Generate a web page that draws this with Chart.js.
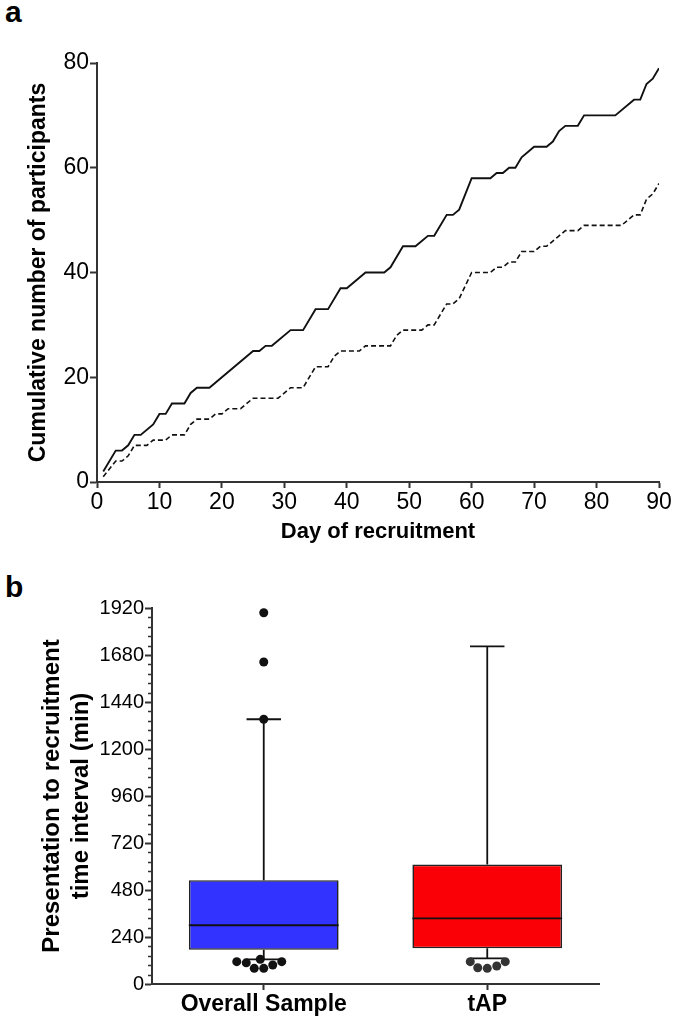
<!DOCTYPE html>
<html lang="en">
<head>
<meta charset="UTF-8" />
<title>Recruitment charts</title>
<script src="https://cdn.jsdelivr.net/npm/chart.js"></script>
<style>
  body { margin: 0; background: #fff; }
  .panel { position: absolute; left: 0; width: 675px; }
  .letter {
    position: absolute;
    font: bold 30px "Liberation Sans", Arial, sans-serif;
    line-height: 1;
    color: #000;
  }
</style>
</head>
<body>
<div class="letter" style="left:5px; top:-3px;">a</div>
<div class="letter" style="left:5px; top:572px;">b</div>
<div class="panel" style="top:0; height:550px;"><canvas id="lineChart"></canvas></div>
<div class="panel" style="top:550px; height:470px;"><canvas id="boxChart"></canvas></div>

<script>
// --- panel a: cumulative recruitment (vertices of the step-like lines) ---
const solidDays   = [1,3,4,5,6,7,9,10,11,12,14,15,16,18,25,26,27,28,31,33,35,37,39,40,43,46,47,49,51,53,54,56,57,58,60,63,64,65,66,67,68,70,72,73,74,75,77,78,83,86,87,88,89,90];
const solidCounts = [2,6,6,7,9,9,11,13,13,15,15,17,18,18,25,25,26,26,29,29,33,33,37,37,40,40,41,45,45,47,47,51,51,52,58,58,59,59,60,60,62,64,64,65,67,68,68,70,70,73,73,76,77,79];
const dashedDays   = [1,3,4,5,6,8,9,11,12,14,15,16,18,19,20,21,23,25,29,31,33,35,37,38,39,42,43,47,48,49,52,53,54,56,57,58,60,63,64,65,66,67,68,70,71,72,74,75,77,78,84,86,87,88,89,90];
const dashedCounts = [1,4,4,5,7,7,8,8,9,9,11,12,12,13,13,14,14,16,16,18,18,22,22,24,25,25,26,26,28,29,29,30,30,34,34,35,40,40,41,41,42,42,44,44,45,45,47,48,48,49,49,51,51,54,55,57];

// --- panel b: box plot summary ---
const groups       = ['Overall Sample', 'tAP'];
const q1Values     = [175, 182];
const medianValues = [300, 335];
const q3Values     = [530, 610];
const whiskerLow   = [126, 131];
const whiskerHigh  = [1352, 1724];
const overallPoints = [1896, 1644, 1352, 126, 114, 114, 108, 97, 80, 80];
const tapPoints     = [114, 114, 92, 83, 80];

const SANS = '"Liberation Sans", Arial, sans-serif';
Chart.defaults.color = '#000';
Chart.defaults.animation = false;

function toXY(xs, ys) {
  return xs.map((x, i) => ({ x: x, y: ys[i] }));
}

new Chart(document.getElementById('lineChart'), {
  type: 'line',
  data: {
    datasets: [
      { label: 'Overall sample', data: toXY(solidDays, solidCounts),
        borderColor: '#111', borderWidth: 1.9, pointRadius: 0, tension: 0 },
      { label: 'tAP', data: toXY(dashedDays, dashedCounts),
        borderColor: '#111', borderWidth: 1.6, borderDash: [5, 3], pointRadius: 0, tension: 0 }
    ]
  },
  options: {
    responsive: true,
    maintainAspectRatio: false,
    layout: { padding: { top: 63, right: 16, left: 0, bottom: 0 } },
    plugins: { legend: { display: false }, tooltip: { enabled: false } },
    scales: {
      x: {
        type: 'linear', min: 0, max: 90,
        ticks: { stepSize: 10, maxRotation: 0, padding: 1, font: { family: SANS, size: 23 } },
        grid: { drawOnChartArea: false, tickLength: 6, tickWidth: 2, tickColor: '#333' },
        border: { color: '#333', width: 2 },
        title: { display: true, text: 'Day of recruitment',
                 font: { family: SANS, size: 22, weight: 'bold' }, padding: { top: 0, bottom: 5 } },
        afterFit: s => { s.height = 68; }
      },
      y: {
        min: 0, max: 80,
        ticks: { stepSize: 20, padding: 1, font: { family: SANS, size: 23 } },
        grid: { drawOnChartArea: false, tickLength: 7, tickWidth: 2, tickColor: '#333' },
        border: { color: '#333', width: 2 },
        title: { display: true, text: 'Cumulative number of participants',
                 font: { family: SANS, size: 23, weight: 'bold' }, padding: { top: 25, bottom: 0 } },
        afterFit: s => { s.width = 97; }
      }
    }
  }
});

// simple beeswarm: each point takes the nearest free horizontal offset
function swarm(yPixels, minDist) {
  const placed = [];
  const order = yPixels.map((y, i) => i).sort((a, b) => yPixels[b] - yPixels[a]);
  const offsets = new Array(yPixels.length).fill(0);
  order.forEach(i => {
    const y = yPixels[i];
    for (let k = 0; k < 400; k++) {
      const dx = (k % 2 === 0 ? 1 : -1) * Math.ceil(k / 2) * 0.5;
      const ok = placed.every(p => Math.hypot(p.x - dx, p.y - y) >= minDist);
      if (ok) { offsets[i] = dx; placed.push({ x: dx, y: y }); break; }
    }
  });
  return offsets;
}

const boxParts = {
  id: 'boxParts',
  afterDatasetsDraw(chart) {
    const { ctx, scales: { y } } = chart;
    const meta = chart.getDatasetMeta(0);
    const pointSets = [overallPoints, tapPoints];
    const dotColors = ['#111', '#333'];
    ctx.save();
    ctx.strokeStyle = '#111';
    ctx.lineWidth = 1.8;
    meta.data.forEach((bar, i) => {
      const half = bar.width / 2;
      const cap = bar.width * 0.115;
      const x = bar.x;
      const yMed = y.getPixelForValue(medianValues[i]);
      const yQ1 = y.getPixelForValue(q1Values[i]);
      const yQ3 = y.getPixelForValue(q3Values[i]);
      const yLo = y.getPixelForValue(whiskerLow[i]);
      const yHi = y.getPixelForValue(whiskerHigh[i]);
      ctx.beginPath();
      ctx.moveTo(x - half, yMed); ctx.lineTo(x + half, yMed);
      ctx.moveTo(x, yQ3); ctx.lineTo(x, yHi);
      ctx.moveTo(x - cap, yHi); ctx.lineTo(x + cap, yHi);
      ctx.moveTo(x, yQ1); ctx.lineTo(x, yLo);
      ctx.moveTo(x - cap, yLo); ctx.lineTo(x + cap, yLo);
      ctx.stroke();

      const pys = pointSets[i].map(v => y.getPixelForValue(v));
      const offs = swarm(pys, 9.5);
      ctx.fillStyle = dotColors[i];
      pys.forEach((py, j) => {
        ctx.beginPath();
        ctx.arc(x + offs[j], py, 4.5, 0, Math.PI * 2);
        ctx.fill();
      });
    });
    ctx.restore();
  },
  afterDraw(chart) {
    // minor ticks on the value axis
    const { ctx, scales: { y } } = chart;
    ctx.save();
    ctx.strokeStyle = '#333';
    ctx.lineWidth = 1.5;
    ctx.beginPath();
    for (let v = 48; v < 1920; v += 48) {
      if (v % 240 === 0) continue;
      const py = Math.round(y.getPixelForValue(v)) + 0.5;
      ctx.moveTo(y.right - 4, py);
      ctx.lineTo(y.right, py);
    }
    ctx.stroke();
    ctx.restore();
  }
};

new Chart(document.getElementById('boxChart'), {
  type: 'bar',
  data: {
    labels: groups,
    datasets: [{
      label: 'Presentation to recruitment',
      data: q1Values.map((v, i) => [v, q3Values[i]]),
      backgroundColor: ['#3333ff', '#fa0006'],
      borderColor: '#222',
      borderWidth: 1.6,
      borderSkipped: false,
      barPercentage: 0.67,
      categoryPercentage: 1
    }]
  },
  options: {
    responsive: true,
    maintainAspectRatio: false,
    layout: { padding: { top: 58, right: 76, left: 0, bottom: 0 } },
    plugins: { legend: { display: false }, tooltip: { enabled: false } },
    scales: {
      x: {
        offset: true,
        ticks: { padding: 1, font: { family: SANS, size: 23, weight: 'bold' } },
        grid: { offset: false, drawOnChartArea: false, tickLength: 6, tickWidth: 2, tickColor: '#333' },
        border: { color: '#333', width: 2 },
        afterFit: s => { s.height = 36; }
      },
      y: {
        min: 0, max: 1920,
        ticks: { stepSize: 240, padding: 1, font: { family: SANS, size: 20 },
                 callback: v => String(v) },
        grid: { drawOnChartArea: false, tickLength: 7, tickWidth: 2, tickColor: '#333' },
        border: { color: '#333', width: 2 },
        title: { display: true, text: ['Presentation to recruitment', 'time interval (min)'],
                 font: { family: SANS, size: 24, weight: 'bold' }, padding: { top: 38, bottom: 0 } },
        afterFit: s => { s.width = 152; }
      }
    }
  },
  plugins: [boxParts]
});
</script>
</body>
</html>
